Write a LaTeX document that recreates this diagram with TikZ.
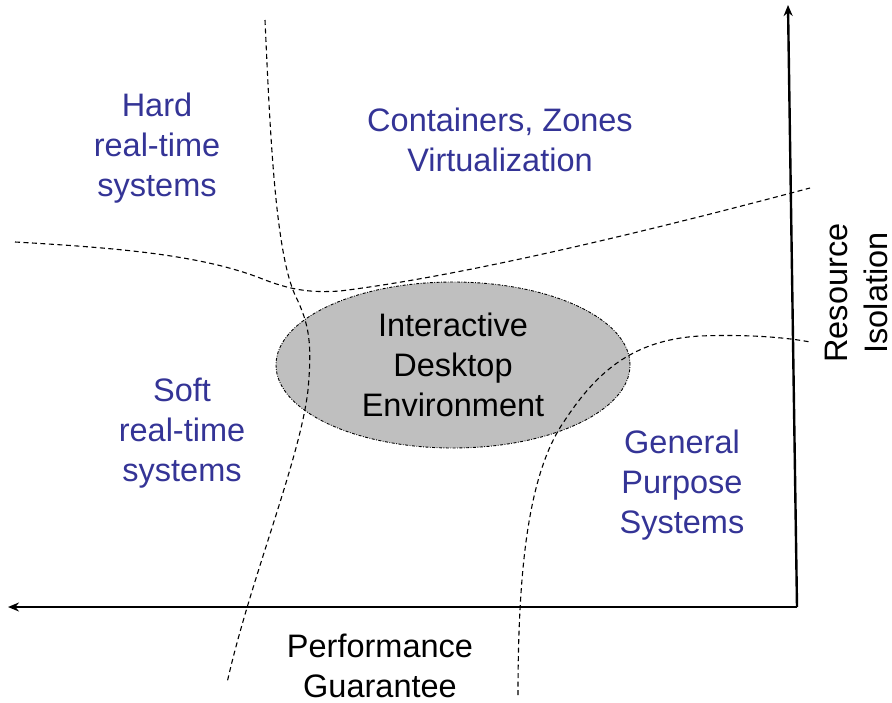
\documentclass[tikz,border=0pt]{standalone}
\usepackage{fontspec}
\setmainfont{Liberation Sans}
\usetikzlibrary{arrows.meta,shapes.geometric}
\definecolor{regionblue}{RGB}{52,52,150}
\tikzset{
  axisline/.style={-{Stealth[length=11pt,width=9pt]}, line width=2.4pt, draw=black},
  boundary/.style={line width=1.1pt, dash pattern=on 5pt off 3.5pt},
  region/.style={text=regionblue, align=center, inner sep=0pt, font=\fontsize{32.5}{40}\selectfont},
  axistext/.style={text=black, align=center, inner sep=0pt, font=\fontsize{32.5}{40}\selectfont},
  envbox/.style={ellipse, draw=black, fill=black!25, line width=0.9pt, dash pattern=on 3pt off 1.5pt on 0.8pt off 1.5pt, minimum width=354pt, minimum height=166pt, inner sep=0pt, align=center, font=\fontsize{32.5}{40}\selectfont}
}

\begin{document}
\begin{tikzpicture}[x=1pt, y=-1pt]
  \useasboundingbox (0,0) rectangle (892,702);
  \node[envbox] (desktop) at (453,365) {Interactive\\Desktop\\Environment};

  % region boundaries
  \draw[boundary] (265,20) .. controls (270,130) and (275,250) .. (295,295) .. controls (310,325) and (312,345) .. (308,390) .. controls (300,460) and (250,580) .. (227,683);
  \draw[boundary] (15,242) .. controls (120,248) and (200,255) .. (260,278) .. controls (290,290) and (310,293) .. (340,291) .. controls (470,275) and (660,228) .. (810,188);
  \draw[boundary] (518,695) .. controls (518,560) and (530,470) .. (565,420) .. controls (595,375) and (630,340) .. (700,336) .. controls (750,334) and (790,338) .. (810,342);

  % axes
  \coordinate (origin) at (797,607);
  \coordinate (ytip) at (788,5);
  \coordinate (xtip) at (8,607);
  \draw[axisline] (origin) -- (ytip);
  \draw[axisline] (origin) -- (xtip);

  \node[region] (hard) at (157,148) {Hard\\real-time\\systems};
  \node[region] (virt) at (500,140) {Containers, Zones\\Virtualization};
  \node[region] (soft) at (182,433) {Soft\\real-time\\systems};
  \node[region] (general) at (682,485) {General\\Purpose\\Systems};
  \node[axistext] (perf) at (380,666) {Performance\\Guarantee};
  \node[axistext, rotate=90] (isol) at (856,293) {Resource\\Isolation};
\end{tikzpicture}
\end{document}
